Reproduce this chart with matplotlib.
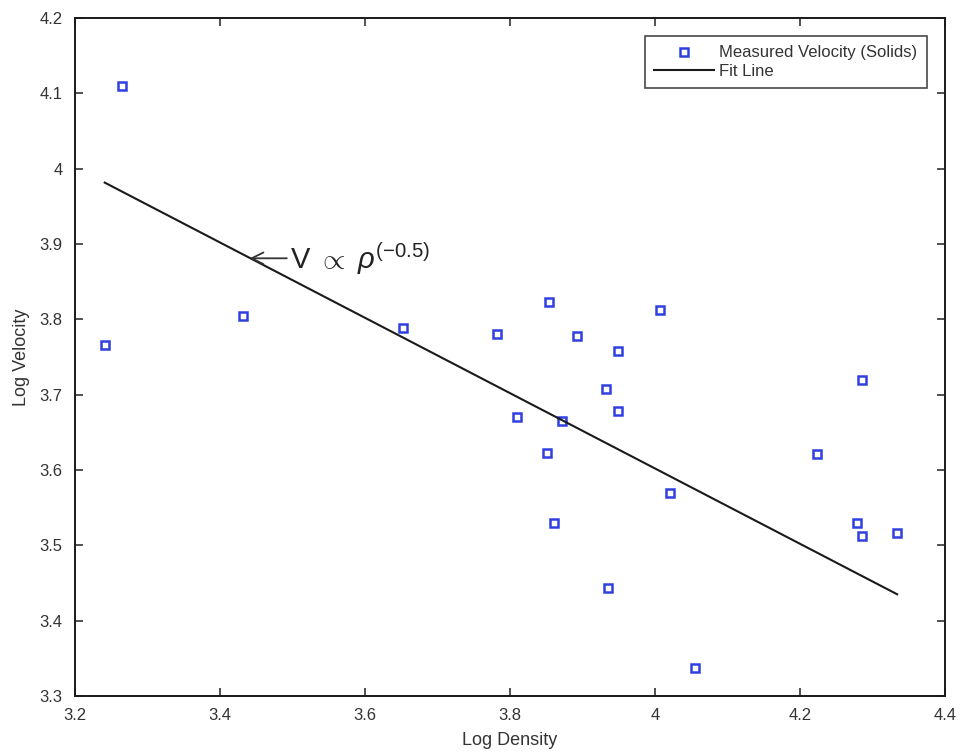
import matplotlib.pyplot as plt
import numpy as np

plt.rcParams['font.family'] = ['Liberation Sans', 'DejaVu Sans']
plt.rcParams['mathtext.fontset'] = 'custom'
plt.rcParams['mathtext.rm'] = 'Liberation Sans'
plt.rcParams['mathtext.it'] = 'Liberation Sans:italic'

# measured log density / log velocity pairs
log_density = [3.265, 3.241, 3.432, 3.652, 3.782, 3.810, 3.854, 3.851, 3.892,
               3.872, 3.861, 3.932, 3.949, 3.949, 3.935, 4.007, 4.021, 4.055,
               4.223, 4.286, 4.279, 4.286, 4.334]
log_velocity = [4.110, 3.766, 3.805, 3.788, 3.781, 3.670, 3.823, 3.622, 3.778,
                3.665, 3.530, 3.707, 3.758, 3.678, 3.443, 3.812, 3.570, 3.337,
                3.621, 3.720, 3.529, 3.512, 3.516]

# straight-line fit, slope -0.5
fit_slope = -0.5
fit_intercept = 5.602

x = np.array(log_density)
y = np.array(log_velocity)
xf = np.array([x.min(), x.max()])
yf = fit_intercept + fit_slope * xf

fig = plt.figure(figsize=(9.64, 7.56), dpi=100)
ax = fig.add_axes([0.0778, 0.0794, 0.9025, 0.8968])

ax.plot(x, y, 's', color='#3040e0', markerfacecolor='none',
        markersize=6, markeredgewidth=1.8, label='Measured Velocity (Solids)')
ax.plot(xf, yf, '-', color='#1a1a1a', linewidth=1.5, label='Fit Line')

ax.annotate(r'V $\propto$ $\mathit{\rho}^{(\mathrm{-0.5})}$', xy=(3.441, 3.881),
            xytext=(3.496, 3.881), fontsize=21, va='center', ha='left',
            color='#222222',
            arrowprops=dict(arrowstyle='->', color='#333333', lw=1.3,
                            shrinkA=0, shrinkB=0))

ax.set_xlim(3.2, 4.4)
ax.set_ylim(3.3, 4.2)
ax.set_xticks(np.arange(3.2, 4.41, 0.2))
ax.set_xticklabels(['3.2', '3.4', '3.6', '3.8', '4', '4.2', '4.4'])
ax.set_yticks(np.arange(3.3, 4.21, 0.1))
ax.set_yticklabels(['3.3', '3.4', '3.5', '3.6', '3.7', '3.8', '3.9', '4', '4.1', '4.2'])
ax.tick_params(direction='in', top=True, right=True, length=6, width=1.2,
               labelsize=12, colors='#333333', labelcolor='#333333')
ax.tick_params(axis='x', pad=9)
ax.tick_params(axis='y', pad=9)
for s in ax.spines.values():
    s.set_linewidth(1.4)
    s.set_color('#1a1a1a')

ax.set_xlabel('Log Density', fontsize=13, color='#333333', labelpad=6)
ax.set_ylabel('Log Velocity', fontsize=13, color='#333333', labelpad=7)

leg = ax.legend(loc='upper right', fontsize=12, frameon=True, fancybox=False,
                borderpad=0.55, handlelength=3.6, labelspacing=0.2,
                borderaxespad=1.1, handletextpad=0.3)
leg.get_frame().set_edgecolor('#1a1a1a')
leg.get_frame().set_linewidth(1.2)
for t in leg.get_texts():
    t.set_color('#333333')

fig.savefig('out.png', dpi=100)
